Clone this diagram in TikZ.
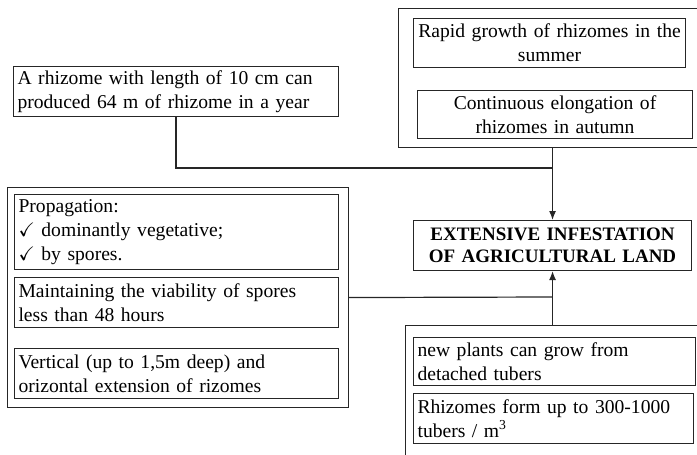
\documentclass[tikz,border=0pt]{standalone}
\usepackage{fontspec}
\setmainfont{Liberation Serif}
\usepackage{amssymb}
\usetikzlibrary{arrows.meta}
\tikzset{
  frame/.style={draw=black!85, line width=1.1pt, rectangle, inner sep=0pt, anchor=north west},
  box/.style={draw=black!85, line width=1.1pt, rectangle, inner sep=0pt, anchor=north west,
    align=left, font=\fontsize{19.6}{24}\selectfont},
  cbox/.style={box, align=center},
  link/.style={draw=black!85, line width=1.2pt},
  tip/.style={-{Latex[length=9pt,width=7pt]}},
}

\begin{document}
\begin{tikzpicture}[x=1pt,y=-1pt]
  \useasboundingbox (0,0) rectangle (697,455);
  \clip (0,0) rectangle (697,455);
  % outer frames
  \node[frame, minimum width=308pt, minimum height=139pt] (top) at (398,8) {};
  \node[frame, minimum width=341pt, minimum height=220pt] (left) at (7,187) {};
  \node[frame, minimum width=294pt, minimum height=150pt] (bot) at (405,325) {};
  % single boxes
  \node[box, minimum width=325pt, minimum height=50pt, text width=317pt] (len) at (13,66)
    {A rhizome with length of 10 cm can\\produced 64 m of rhizome in a year};
  \node[cbox, minimum width=272pt, minimum height=49pt, text width=268pt] (rapid) at (413,18)
    {Rapid growth of rhizomes in the\\summer};
  \node[cbox, minimum width=275pt, minimum height=48pt, text width=268pt] (cont) at (417,90)
    {Continuous elongation of\\rhizomes in autumn};
  \node[cbox, minimum width=278pt, minimum height=50pt, text width=272pt,
    font=\fontsize{19}{22}\selectfont\bfseries] (ext) at (413,220)
    {EXTENSIVE INFESTATION\\OF AGRICULTURAL LAND};
  \node[box, minimum width=324pt, minimum height=75pt, text width=316pt] (prop) at (14,194)
    {Propagation:\\$\checkmark$ dominantly vegetative;\\$\checkmark$ by spores.};
  \node[box, minimum width=324pt, minimum height=50pt, text width=316pt] (viab) at (14,277)
    {Maintaining the viability of spores\\less than 48 hours};
  \node[box, minimum width=324pt, minimum height=50pt, text width=316pt] (vert) at (14,348)
    {Vertical (up to 1,5m deep) and\\orizontal extension of rizomes};
  \node[box, minimum width=282pt, minimum height=48pt, text width=274pt] (tub) at (413,337)
    {new plants can grow from\\detached tubers};
  \node[box, minimum width=280pt, minimum height=50pt, text width=272pt] (form) at (413,393)
    {Rhizomes form up to 300-1000\\tubers / m\textsuperscript{3}};
  % connectors
  \coordinate (j1) at (552,168);
  \coordinate (j2) at (552,297);
  \draw[link] (len.south) |- (j1);
  \draw[link, tip] (top.south) -- (ext.north);
  \draw[link] (left.east) -- (j2);
  \draw[link, tip] (bot.north) -- (ext.south);
\end{tikzpicture}
\end{document}
